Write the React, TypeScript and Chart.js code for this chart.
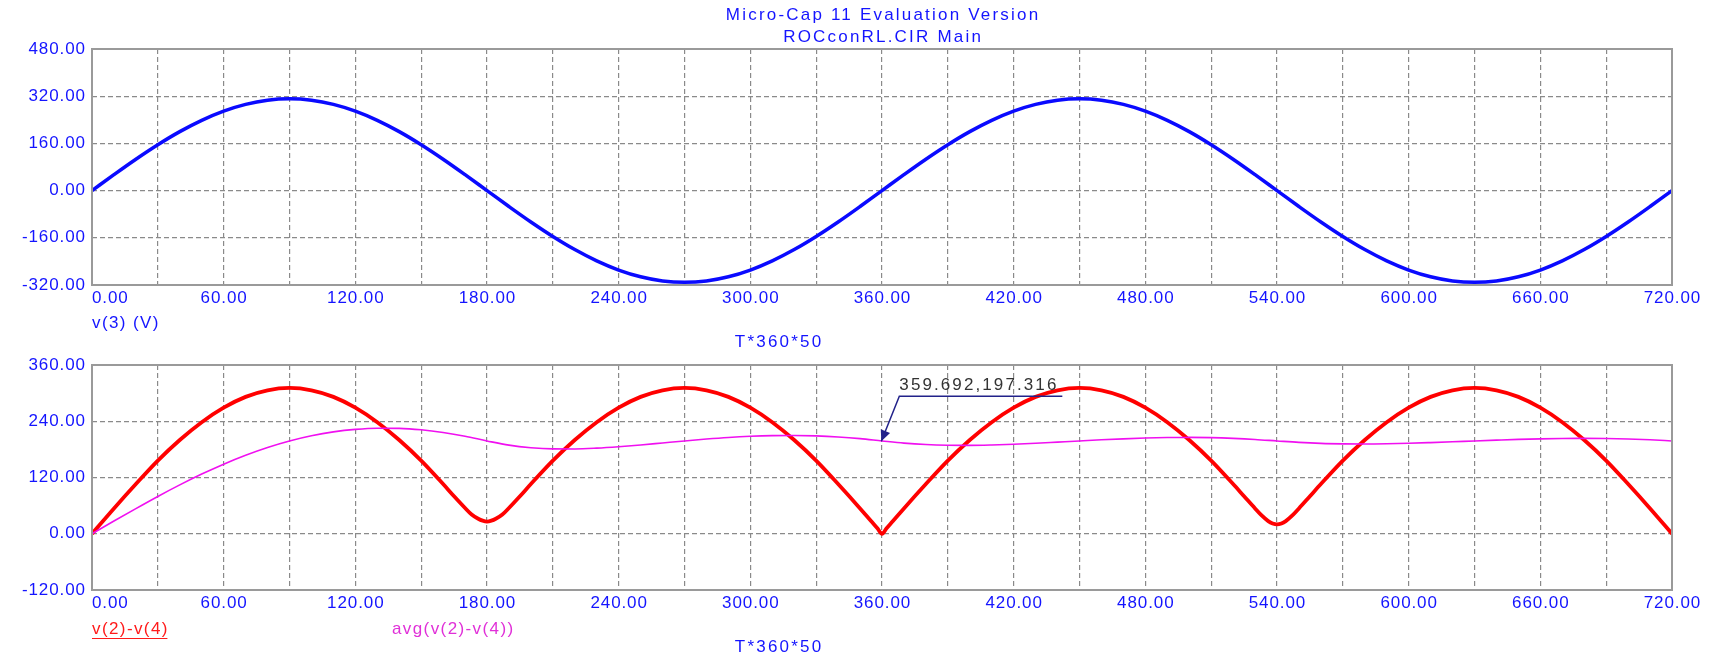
import React, { useEffect, useRef } from 'react';
import { Chart, registerables } from 'chart.js';

Chart.register(...registerables);

// ---------- text ----------
const TITLE_LINES = ['Micro-Cap 11 Evaluation Version', 'ROCconRL.CIR Main'];
const X_AXIS_TITLE = 'T*360*50';
const TOP_LEGEND = 'v(3) (V)';
const BOTTOM_LEGEND_1 = 'v(2)-v(4)';
const BOTTOM_LEGEND_2 = 'avg(v(2)-v(4))';

// ---------- axes ----------
const X_MIN = 0;
const X_MAX = 720;
const X_GRID_STEP = 30;
const X_TICK_LABELS = [0, 60, 120, 180, 240, 300, 360, 420, 480, 540, 600, 660, 720];
const TOP_Y_TICKS = [480, 320, 160, 0, -160, -320];
const TOP_Y_STEP = 160;
const BOTTOM_Y_TICKS = [360, 240, 120, 0, -120];
const BOTTOM_Y_STEP = 120;

// ---------- data ----------
const T = [
  0, 10, 20, 30, 40, 50, 60, 70, 80, 90, 100, 110, 120, 130, 140, 150, 160, 170, 180,
  190, 200, 210, 220, 230, 240, 250, 260, 270, 280, 290, 300, 310, 320, 330, 340, 350, 360,
  370, 380, 390, 400, 410, 420, 430, 440, 450, 460, 470, 480, 490, 500, 510, 520, 530, 540,
  550, 560, 570, 580, 590, 600, 610, 620, 630, 640, 650, 660, 670, 680, 690, 700, 710, 720,
];

const V3 = [
  0, 54.0, 106.4, 155.5, 199.9, 238.2, 269.3, 292.2, 306.3, 311.0, 306.3, 292.2, 269.3, 238.2, 199.9, 155.5, 106.4, 54.0, 0,
  -54.0, -106.4, -155.5, -199.9, -238.2, -269.3, -292.2, -306.3, -311.0, -306.3, -292.2, -269.3, -238.2, -199.9, -155.5, -106.4, -54.0, 0,
  54.0, 106.4, 155.5, 199.9, 238.2, 269.3, 292.2, 306.3, 311.0, 306.3, 292.2, 269.3, 238.2, 199.9, 155.5, 106.4, 54.0, 0,
  -54.0, -106.4, -155.5, -199.9, -238.2, -269.3, -292.2, -306.3, -311.0, -306.3, -292.2, -269.3, -238.2, -199.9, -155.5, -106.4, -54.0, 0,
];

const AVG = [
  0, 27.1, 53.7, 79.6, 104.2, 127.3, 148.5, 167.5, 184.1, 198.0, 209.1, 217.4, 222.7, 225.2, 224.8, 221.7, 216.0, 208.0, 198.0,
  189.0, 183.6, 181.1, 180.9, 182.6, 185.6, 189.4, 193.7, 198.0, 202.0, 205.4, 207.9, 209.4, 209.7, 208.8, 206.5, 202.9, 198.0,
  193.4, 190.4, 188.9, 188.6, 189.4, 190.9, 193.0, 195.5, 198.0, 200.4, 202.5, 204.2, 205.2, 205.5, 205.0, 203.5, 201.2, 198.0,
  194.9, 192.8, 191.8, 191.5, 192.0, 193.0, 194.5, 196.2, 198.0, 199.7, 201.3, 202.5, 203.3, 203.5, 203.1, 202.1, 200.4, 198.0,
];

const RED_T = [
  0, 10, 20, 30, 40, 50, 60, 70, 80, 90, 100, 110, 120, 130, 140, 150, 160, 165, 170, 173, 176, 178, 180, 182, 184, 187, 190, 195,
  200, 210, 220, 230, 240, 250, 260, 270, 280, 290, 300, 310, 320, 330, 340, 350, 355, 358, 360, 362, 365,
  370, 380, 390, 400, 410, 420, 430, 440, 450, 460, 470, 480, 490, 500, 510, 520, 525, 530, 533, 536, 538, 540, 542, 544, 547, 550, 555,
  560, 570, 580, 590, 600, 610, 620, 630, 640, 650, 660, 670, 680, 690, 700, 710, 720,
];

const RED_V = [
  0, 54, 106, 156, 200, 238, 269, 292, 306, 311, 306, 292, 269, 238, 200, 156, 106, 80, 55, 41, 32, 28, 26, 28, 32, 41, 55, 80,
  106, 156, 200, 238, 269, 292, 306, 311, 306, 292, 269, 238, 200, 156, 106, 54, 27, 11, 0, 11, 27,
  54, 106, 156, 200, 238, 269, 292, 306, 311, 306, 292, 269, 238, 200, 156, 106, 80, 54, 39, 27, 22, 20, 22, 27, 39, 54, 80,
  106, 156, 200, 238, 269, 292, 306, 311, 306, 292, 269, 238, 200, 156, 106, 54, 0,
];

const MARKER_X = 359.692;
const MARKER_Y = 197.316;

// ---------- style ----------
const W = 1714;
const H = 657;
const PLOT_LEFT = 92;
const PLOT_RIGHT = 1672;
const TOP_PLOT = { top: 49, bottom: 285 };
const BOTTOM_PLOT = { top: 365, bottom: 590 };
const FONT = '17px "Liberation Sans", Arial, sans-serif';
const SP_TITLE = 2.2;
const SP_NUM = 0.9;
const SP_LEGEND = 1.4;
const SP_MARK = 2.1;
const BLUE_TEXT = '#1414ff';
const GRID_COLOR = '#8a8a8a';
const FRAME_COLOR = '#9a9a9a';

function drawLabel(
  ctx: CanvasRenderingContext2D,
  text: string,
  x: number,
  y: number,
  align: 'left' | 'center' | 'right',
  color: string,
  spacing: number
) {
  ctx.save();
  ctx.font = FONT;
  (ctx as any).letterSpacing = spacing + 'px';
  ctx.fillStyle = color;
  ctx.textBaseline = 'middle';
  ctx.textAlign = 'left';
  const w = ctx.measureText(text).width - spacing;
  let x0 = x;
  if (align === 'center') x0 = x - w / 2;
  else if (align === 'right') x0 = x - w;
  ctx.fillText(text, x0, y);
  ctx.restore();
  return { x0, w };
}

function axisLabels(chart: any, yTicks: number[]) {
  const ctx = chart.ctx as CanvasRenderingContext2D;
  const { left, right, top, bottom } = chart.chartArea;
  const xs = chart.scales.x;
  const ys = chart.scales.y;
  ctx.save();
  ctx.strokeStyle = FRAME_COLOR;
  ctx.lineWidth = 2;
  ctx.strokeRect(left, top, right - left, bottom - top);
  ctx.restore();
  yTicks.forEach((v) => {
    drawLabel(ctx, v.toFixed(2), left - 7, ys.getPixelForValue(v), 'right', BLUE_TEXT, SP_NUM);
  });
  X_TICK_LABELS.forEach((v, i) => {
    const px = xs.getPixelForValue(v);
    drawLabel(ctx, v.toFixed(2), px, bottom + 13.5, i === 0 ? 'left' : 'center', BLUE_TEXT, SP_NUM);
  });
  drawLabel(ctx, X_AXIS_TITLE, left + 686, bottom + 57, 'center', BLUE_TEXT, SP_TITLE);
}

const topTextPlugin = {
  id: 'topText',
  afterDraw(chart: any) {
    const ctx = chart.ctx as CanvasRenderingContext2D;
    const { left, right, bottom } = chart.chartArea;
    axisLabels(chart, TOP_Y_TICKS);
    const cx = (left + right) / 2;
    drawLabel(ctx, TITLE_LINES[0], cx, 15.5, 'center', BLUE_TEXT, SP_TITLE);
    drawLabel(ctx, TITLE_LINES[1], cx, 37.5, 'center', BLUE_TEXT, SP_TITLE);
    drawLabel(ctx, TOP_LEGEND, left, bottom + 38, 'left', BLUE_TEXT, SP_LEGEND);
  },
};

const bottomTextPlugin = {
  id: 'bottomText',
  afterDraw(chart: any) {
    const ctx = chart.ctx as CanvasRenderingContext2D;
    const { left, bottom } = chart.chartArea;
    axisLabels(chart, BOTTOM_Y_TICKS);
    const ly = bottom + 39;
    const l1 = drawLabel(ctx, BOTTOM_LEGEND_1, left, ly, 'left', '#ff1a1a', SP_LEGEND);
    ctx.save();
    ctx.strokeStyle = '#ff1a1a';
    ctx.lineWidth = 1;
    ctx.beginPath();
    ctx.moveTo(l1.x0, ly + 9.5);
    ctx.lineTo(l1.x0 + l1.w, ly + 9.5);
    ctx.stroke();
    ctx.restore();
    drawLabel(ctx, BOTTOM_LEGEND_2, left + 300, ly, 'left', '#e030d8', SP_LEGEND);

    // marker annotation
    const tx = chart.scales.x.getPixelForValue(MARKER_X);
    const ty = chart.scales.y.getPixelForValue(MARKER_Y);
    const ex = tx + 18;
    const ey = ty - 45;
    ctx.save();
    ctx.strokeStyle = '#22228a';
    ctx.fillStyle = '#22228a';
    ctx.lineWidth = 1.5;
    ctx.beginPath();
    ctx.moveTo(ex + 163, ey);
    ctx.lineTo(ex, ey);
    ctx.lineTo(tx, ty);
    ctx.stroke();
    const ang = Math.atan2(ty - ey, tx - ex);
    const len = 11;
    const half = 5;
    const bx = tx - len * Math.cos(ang);
    const by = ty - len * Math.sin(ang);
    ctx.beginPath();
    ctx.moveTo(tx, ty);
    ctx.lineTo(bx + half * Math.sin(ang), by - half * Math.cos(ang));
    ctx.lineTo(bx - half * Math.sin(ang), by + half * Math.cos(ang));
    ctx.closePath();
    ctx.fill();
    ctx.restore();
    drawLabel(ctx, MARKER_X.toFixed(3) + ',' + MARKER_Y.toFixed(3), ex, ey - 11, 'left', '#333333', SP_MARK);
  },
};

function scaleOpts(min: number, max: number, step: number) {
  return {
    type: 'linear' as const,
    min,
    max,
    ticks: { display: false, stepSize: step, maxTicksLimit: 200 },
    grid: { color: GRID_COLOR, lineWidth: 1.2, drawTicks: false },
    border: { display: false, dash: [5, 3] },
  };
}

function baseOptions(area: { top: number; bottom: number }, yMin: number, yMax: number, yStep: number) {
  return {
    animation: false as const,
    responsive: false,
    devicePixelRatio: 1,
    events: [] as any[],
    layout: { padding: { left: PLOT_LEFT, right: W - PLOT_RIGHT, top: area.top, bottom: H - area.bottom } },
    plugins: { legend: { display: false }, tooltip: { enabled: false }, title: { display: false } },
    scales: {
      x: scaleOpts(X_MIN, X_MAX, X_GRID_STEP),
      y: scaleOpts(yMin, yMax, yStep),
    },
  };
}

export default function App() {
  const topRef = useRef<HTMLCanvasElement | null>(null);
  const botRef = useRef<HTMLCanvasElement | null>(null);

  useEffect(() => {
    const topChart = new Chart(topRef.current as HTMLCanvasElement, {
      type: 'line',
      data: {
        datasets: [
          {
            data: T.map((t, i) => ({ x: t, y: V3[i] })),
            borderColor: '#0a0aff',
            borderWidth: 3.5,
            pointRadius: 0,
            cubicInterpolationMode: 'monotone',
            fill: false,
          },
        ],
      },
      options: baseOptions(TOP_PLOT, TOP_Y_TICKS[TOP_Y_TICKS.length - 1], TOP_Y_TICKS[0], TOP_Y_STEP) as any,
      plugins: [topTextPlugin],
    });
    const botChart = new Chart(botRef.current as HTMLCanvasElement, {
      type: 'line',
      data: {
        datasets: [
          {
            data: T.map((t, i) => ({ x: t, y: AVG[i] })),
            borderColor: '#f010f0',
            borderWidth: 1.6,
            pointRadius: 0,
            cubicInterpolationMode: 'monotone',
            fill: false,
          },
          {
            data: RED_T.map((t, i) => ({ x: t, y: RED_V[i] })),
            borderColor: '#ff0000',
            borderWidth: 3.8,
            pointRadius: 0,
            cubicInterpolationMode: 'monotone',
            fill: false,
          },
        ],
      },
      options: baseOptions(BOTTOM_PLOT, BOTTOM_Y_TICKS[BOTTOM_Y_TICKS.length - 1], BOTTOM_Y_TICKS[0], BOTTOM_Y_STEP) as any,
      plugins: [bottomTextPlugin],
    });
    return () => {
      topChart.destroy();
      botChart.destroy();
    };
  }, []);

  const canvasStyle: React.CSSProperties = { position: 'absolute', left: 0, top: 0, width: W, height: H, display: 'block' };
  return (
    <div style={{ position: 'fixed', left: 0, top: 0, width: W, height: H, background: '#ffffff', overflow: 'hidden' }}>
      <canvas ref={topRef} width={W} height={H} style={canvasStyle} />
      <canvas ref={botRef} width={W} height={H} style={canvasStyle} />
    </div>
  );
}
